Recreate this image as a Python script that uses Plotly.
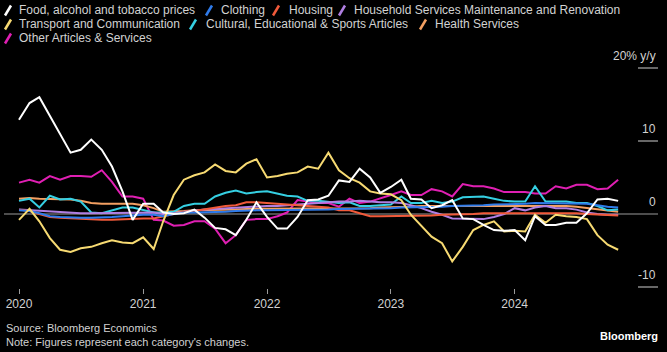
import pandas as pd
import plotly.graph_objects as go

dates = pd.date_range("2020-01-01", "2024-11-01", freq="MS")

food = [12.9, 15.2, 16.0, 13.4, 10.8, 8.4, 8.8, 10.2, 8.8, 6.5, 3.1, -0.8, 1.4, 1.4, 0.2, 0.0, 0.1, 0.6, -0.5, -1.9,
        -2.1, -2.9, -0.8, 1.6, -0.4, -2.0, -2.0, -0.4, 1.9, 2.0, 2.5, 4.6, 4.4, 6.2, 5.0, 2.9, 3.7, 4.7, 2.1, 2.0,
        0.8, 1.2, 1.9, -0.6, -0.7, -1.5, -2.2, -2.3, -2.2, -3.6, -0.3, -1.5, -1.5, -1.2, -1.2, 0.1, 2.0, 2.1, 1.8]
clothing = [0.5, 0.4, 0.1, -0.3, -0.4, -0.5, -0.5, -0.5, -0.5, -0.4, -0.3, -0.2, -0.1, -0.1, -0.3, 0.0, 0.2, 0.2, 0.2, 0.3,
            0.3, 0.4, 0.5, 0.5, 0.5, 0.5, 0.5, 0.5, 0.6, 0.6, 0.6, 0.7, 0.7, 0.7, 0.8, 0.8, 0.8, 0.9, 0.9, 1.0,
            1.0, 1.0, 1.1, 1.1, 1.2, 1.2, 1.3, 1.3, 1.4, 1.4, 1.5, 1.5, 1.5, 1.5, 1.5, 1.4, 1.2, 1.0, 0.9]
housing = [0.6, 0.4, 0.0, -0.4, -0.5, -0.6, -0.7, -0.8, -0.8, -0.8, -0.7, -0.7, -0.6, -0.6, -0.3, 0.0, 0.3, 0.4, 0.6, 0.9,
           1.1, 1.2, 1.6, 1.6, 1.5, 1.4, 1.3, 1.2, 1.2, 1.0, 0.9, 0.5, 0.5, 0.1, -0.3, -0.3, -0.3, -0.3, -0.3, -0.2,
           -0.2, -0.1, -0.1, 0.0, 0.0, 0.1, 0.1, 0.2, 0.2, 0.2, 0.2, 0.2, 0.2, 0.2, 0.1, 0.0, -0.1, -0.2, -0.2]
household = [0.6, 0.5, 0.4, 0.3, 0.2, 0.2, 0.1, 0.1, 0.1, 0.1, 0.2, 0.2, 0.2, 0.2, 0.0, 0.1, 0.3, 0.5, 0.6, 0.7,
             0.8, 0.9, 1.0, 1.0, 1.1, 1.1, 1.2, 1.3, 1.4, 1.5, 1.6, 1.7, 1.7, 1.8, 1.7, 1.6, 1.6, 1.5, 1.2, 0.8,
             0.3, -0.1, -0.6, -0.6, -0.6, -0.7, -0.4, 0.0, 0.8, 0.5, 0.9, 1.1, 0.8, 0.8, 0.6, 0.2, 0.0, -0.1, -0.1]
transport = [-0.8, 0.7, -1.0, -3.3, -4.9, -5.2, -4.7, -4.5, -4.0, -3.6, -3.9, -4.0, -3.2, -4.8, -1.0, 2.6, 4.7, 5.3, 5.7, 6.8,
             5.9, 5.7, 6.9, 7.5, 5.0, 5.2, 5.5, 5.7, 6.5, 6.2, 8.4, 6.0, 4.9, 4.3, 3.1, 2.8, 2.7, 1.9, -0.1, -1.7,
             -3.1, -4.0, -6.5, -4.5, -2.2, -1.5, -1.0, -2.4, -2.3, -2.4, -0.1, -1.2, -0.1, -0.3, -0.4, -0.7, -2.9, -4.2, -4.9]
cultural = [1.8, 2.1, 0.9, 2.5, 2.0, 2.1, 1.7, 0.2, 0.1, 0.5, 0.9, 0.9, 0.6, 0.2, 0.2, 0.3, 1.1, 1.4, 1.4, 2.4,
            2.9, 3.2, 2.8, 3.0, 3.1, 2.8, 2.5, 2.4, 1.8, 1.8, 1.7, 1.5, 1.6, 1.1, 1.1, 1.2, 1.3, 2.4, 1.5, 1.5,
            1.8, 1.5, 1.7, 2.3, 2.4, 2.4, 2.1, 1.8, 1.7, 1.7, 3.8, 1.7, 1.7, 1.7, 1.5, 1.5, 1.1, 0.5, 0.6]
health = [2.1, 2.2, 2.1, 2.1, 2.1, 2.0, 1.8, 1.5, 1.4, 1.4, 1.4, 1.4, 1.2, 0.8, 0.3, 0.3, 0.4, 0.5, 0.5, 0.6,
          0.6, 0.6, 0.7, 0.7, 0.7, 0.7, 0.7, 0.7, 0.7, 0.7, 0.8, 0.8, 0.8, 0.8, 0.8, 0.9, 0.9, 1.0, 1.0, 1.1,
          1.1, 1.2, 1.2, 1.2, 1.2, 1.2, 1.2, 1.2, 1.2, 1.2, 1.2, 1.2, 1.2, 1.1, 1.0, 0.8, 0.6, 0.4, 0.3]
other = [4.3, 4.7, 4.3, 5.2, 4.7, 5.2, 5.2, 5.1, 6.0, 4.4, 2.4, 2.4, 2.1, -0.8, -0.9, -1.6, -1.5, -1.0, -1.0, -2.0,
         -4.0, -2.9, -0.8, -0.7, -0.7, -0.3, 0.2, 1.9, 1.7, 1.5, 1.5, 1.0, 2.1, 1.5, 1.7, 2.1, 2.6, 3.1, 2.6, 2.6,
         3.4, 3.1, 2.4, 4.1, 3.8, 3.8, 3.5, 3.0, 3.0, 3.0, 2.8, 2.8, 3.8, 3.5, 4.0, 4.0, 3.4, 3.5, 4.7]

names = ["Food, alcohol and tobacco prices", "Clothing", "Housing",
         "Household Services Maintenance and Renovation", "Transport and Communication",
         "Cultural, Educational & Sports Articles", "Health Services", "Other Articles & Services"]
series = [food, clothing, housing, household, transport, cultural, health, other]
colors = ["#ffffff", "#2f7bea", "#f15a3a", "#b07fe2", "#f7da72", "#35cfe2", "#f4a062", "#e01fb3"]

y_ticks = [20, 10, 0, -10]
y_tick_text = ["20% y/y", "10", "0", "-10"]
x_ticks = ["2020-01-01", "2021-01-01", "2022-01-01", "2023-01-01", "2024-01-01"]
x_tick_text = ["2020", "2021", "2022", "2023", "2024"]

W, H = 667, 352
TOP, BOT = 50, 288
FONT = "Liberation Sans, Arial, sans-serif"
TXT = "#d2d2d2"


def px(x):
    return x / W


def py(y):
    return (BOT - y) / (BOT - TOP)


fig = go.Figure()
draw_order = [7, 6, 5, 3, 2, 1, 4, 0]
for i in draw_order:
    fig.add_trace(go.Scatter(x=dates, y=series[i], mode="lines", name=names[i],
                             line=dict(color=colors[i], width=2), showlegend=False))

shapes = []
annotations = []

# zero line and y-tick underlines
shapes.append(dict(type="line", xref="paper", yref="y", x0=px(4), x1=px(658), y0=0, y1=0,
                   line=dict(color="#9a9a9a", width=1), layer="below"))
for v, t in zip(y_ticks, y_tick_text):
    if v != 0:
        shapes.append(dict(type="line", xref="paper", yref="y", x0=px(638), x1=px(658), y0=v, y1=v,
                           line=dict(color="#8a8a8a", width=1.5)))
    annotations.append(dict(text=t, xref="paper", yref="y", x=px(658), y=v, xanchor="right",
                            yanchor="bottom", yshift=3, showarrow=False,
                            font=dict(family=FONT, size=12, color=TXT)))

# legend (manual, slash markers)
legend_pos = [(5, 17, 10.5), (206, 219, 10.5), (273, 287, 10.5), (339, 352, 10.5),
              (5, 17, 24.5), (190, 204, 24.5), (420, 433, 24.5), (5, 17, 38.5)]
for (sx, tx, ty), n, c in zip(legend_pos, names, colors):
    shapes.append(dict(type="line", xref="paper", yref="paper",
                       x0=px(sx), y0=py(ty + 5), x1=px(sx + 6), y1=py(ty - 5),
                       line=dict(color=c, width=2.5)))
    annotations.append(dict(text=n, xref="paper", yref="paper", x=px(tx), y=py(ty),
                            xanchor="left", yanchor="middle", showarrow=False,
                            font=dict(family=FONT, size=12, color=TXT)))

# footer
annotations.append(dict(text="Source: Bloomberg Economics", xref="paper", yref="paper", x=px(4), y=py(328),
                        xanchor="left", yanchor="middle", showarrow=False,
                        font=dict(family=FONT, size=11, color=TXT)))
annotations.append(dict(text="Note: Figures represent each category's changes.", xref="paper", yref="paper",
                        x=px(4), y=py(342), xanchor="left", yanchor="middle", showarrow=False,
                        font=dict(family=FONT, size=11, color=TXT)))
annotations.append(dict(text="<b>Bloomberg</b>", xref="paper", yref="paper", x=px(660), y=py(336),
                        xanchor="right", yanchor="middle", showarrow=False,
                        font=dict(family=FONT, size=11, color="#ffffff")))

fig.update_layout(
    width=W, height=H,
    margin=dict(l=0, r=0, t=TOP, b=H - BOT),
    paper_bgcolor="#000000", plot_bgcolor="#000000",
    xaxis=dict(type="date", range=["2019-11-06", "2025-03-25"], tickvals=x_ticks, ticktext=x_tick_text,
               ticks="outside", ticklen=5, tickcolor="#9a9a9a", showgrid=False, zeroline=False,
               showline=False, tickfont=dict(family=FONT, size=12, color=TXT)),
    yaxis=dict(range=[(214 - BOT) / 7.3, (214 - TOP) / 7.3], showgrid=False, zeroline=False,
               showticklabels=False, showline=False),
    shapes=shapes, annotations=annotations, showlegend=False,
)

fig.write_html("out.html")
